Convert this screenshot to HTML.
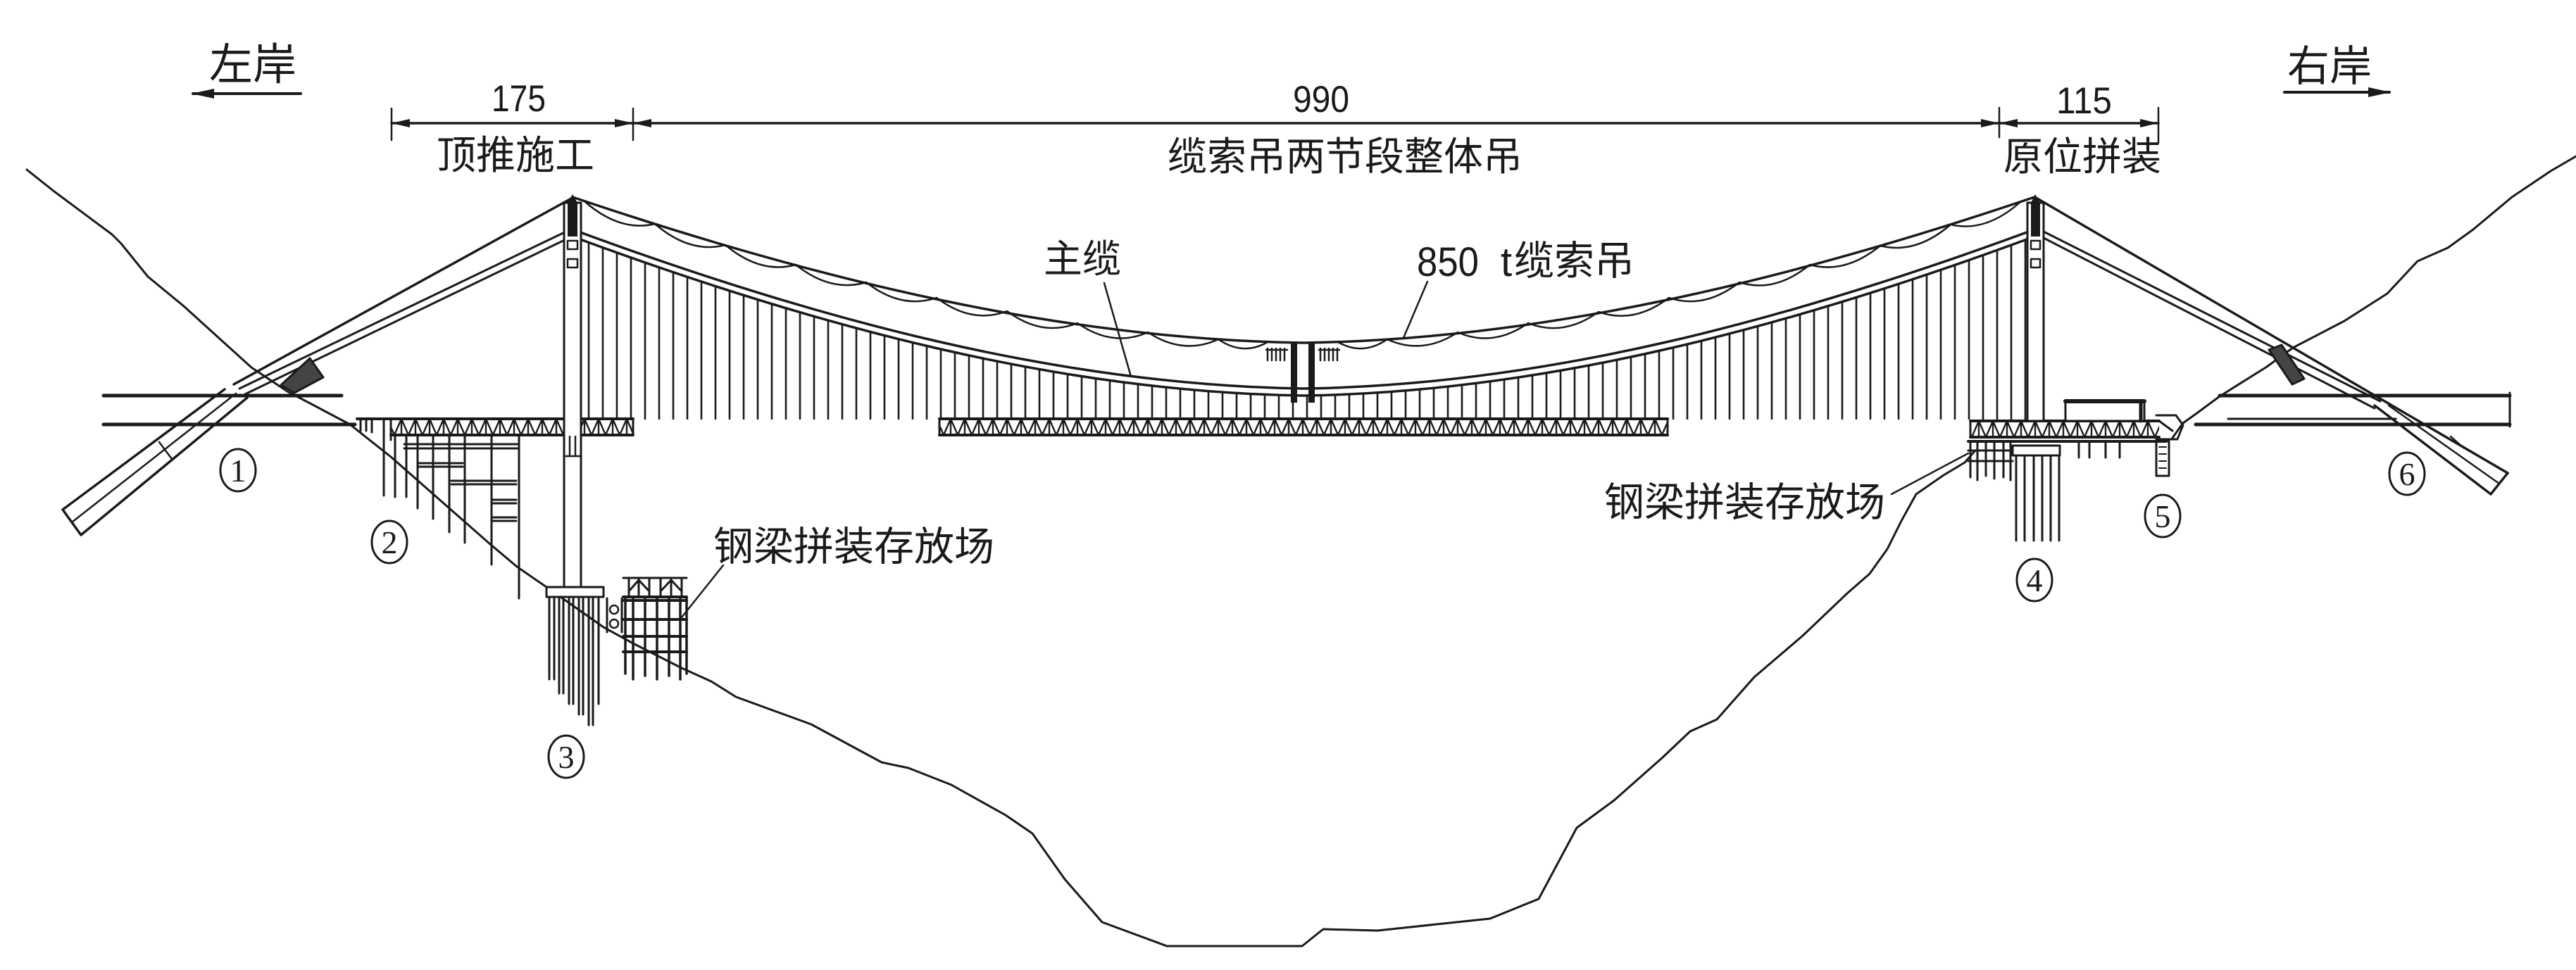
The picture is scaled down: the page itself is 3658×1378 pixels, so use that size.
<!DOCTYPE html>
<html><head><meta charset="utf-8">
<style>
html,body{margin:0;padding:0;background:#fff;}
svg{display:block;}
.cjk{font-family:"Liberation Sans","Noto Sans CJK SC",sans-serif;fill:#1a1a1a;}
.num{font-family:"Liberation Sans",sans-serif;fill:#1a1a1a;}
.cn{font-family:"Liberation Serif",serif;fill:#1a1a1a;text-anchor:middle;}
</style></head><body>
<svg width="3658" height="1378" viewBox="0 0 3658 1378" xmlns="http://www.w3.org/2000/svg">
<defs>
<pattern id="hang" patternUnits="userSpaceOnUse" x="6" y="0" width="20" height="20"><line x1="10" y1="0" x2="10" y2="20" stroke="#1a1a1a" stroke-width="2.6"/></pattern>
<pattern id="truss" patternUnits="userSpaceOnUse" x="0" y="595" width="20" height="23"><path d="M0,23 L10,0 L20,23 M10,0 L10,23" stroke="#1a1a1a" stroke-width="2.4" fill="none"/></pattern>
<pattern id="trussR" patternUnits="userSpaceOnUse" x="0" y="598" width="20" height="23"><path d="M0,23 L10,0 L20,23 M10,0 L10,23" stroke="#1a1a1a" stroke-width="2.4" fill="none"/></pattern>
</defs>
<rect width="3658" height="1378" fill="#fff"/>

<g fill="none" stroke="#1a1a1a" stroke-linejoin="round" stroke-linecap="round">
<!-- terrain -->
<path stroke-width="3" d="M38,241 L77,272 L159,333 L172,346 L210,393 L261,435 L357,522 L408,556 L446,576 L497,603 L555,649 L638,722 L696,773 L734,805 L776,834 L857,891 L899,914 L968,949 L1010,968 L1045,990 L1152,1029 L1252,1083 L1290,1091 L1351,1115 L1428,1158 L1466,1184 L1512,1249 L1565,1310 L1657,1344 L1849,1344 L1879,1320 L1956,1322 L2116,1305 L2185,1277 L2239,1176 L2292,1137 L2361,1076 L2400,1039 L2438,1022 L2491,962 L2560,903 L2623,843 L2655,815 L2680,780 L2700,740 L2721,702 L2760,675 L2790,657 L2805,640"/>
<path stroke-width="3" d="M3085,622 L3100,601 L3121,586 L3152,563 L3219,521 L3256,494 L3329,456 L3390,417 L3433,371 L3476,352 L3512,326 L3567,280 L3622,243 L3658,222"/>

<!-- dimension line -->
<line x1="556" y1="175" x2="3065" y2="175" stroke-width="3.5"/>
<line x1="556" y1="154" x2="556" y2="199" stroke-width="2.5"/>
<line x1="899" y1="154" x2="899" y2="199" stroke-width="2.5"/>
<line x1="2839" y1="153" x2="2839" y2="195" stroke-width="2.5"/>
<line x1="3065" y1="153" x2="3065" y2="203" stroke-width="2.5"/>

<!-- bank arrows -->
<line x1="274" y1="133" x2="427" y2="133" stroke-width="4"/>
<line x1="3244" y1="131" x2="3393" y2="131" stroke-width="4"/>

<!-- roads -->
<line x1="147" y1="562" x2="485" y2="562" stroke-width="5"/>
<line x1="147" y1="603" x2="504" y2="603" stroke-width="5"/>
<line x1="3152" y1="562" x2="3564" y2="562" stroke-width="5"/>
<line x1="3118" y1="603" x2="3564" y2="603" stroke-width="5"/>
<line x1="3164" y1="595" x2="3402" y2="595" stroke-width="3"/>
<line x1="3564" y1="558" x2="3564" y2="606" stroke-width="3"/>

<!-- hangers -->
<path stroke="none" fill="url(#hang)" d="M813,336 C1159,464 1505,557 1851,562 C2197,557 2543,464 2889,336 L2889,596 L813,596 Z"/>

<!-- upper crane cable -->
<path stroke-width="3.5" d="M813,280 C1159,397 1505,482 1851,487 C2197,482 2543,397 2889,280"/>
<!-- scallops -->
<path stroke-width="2.5" d="M830,286 Q880,330 930,318 Q980,361 1030,348 Q1080,390 1130,376 Q1180,416 1230,401 Q1280,440 1330,423 Q1380,461 1430,442 Q1480,479 1530,459 Q1580,494 1630,472 Q1680,505 1730,482 Q1765,506 1800,486 M1900,486 Q1935,506 1970,482 Q2020,505 2070,472 Q2120,494 2170,459 Q2220,479 2270,443 Q2320,461 2370,423 Q2420,440 2470,401 Q2520,417 2570,376 Q2620,390 2670,349 Q2720,362 2770,319 Q2820,331 2870,286"/>

<!-- main cable -->
<path stroke-width="3.5" d="M813,326 C1159,454 1505,547 1851,552 C2197,547 2543,454 2889,326"/>
<path stroke-width="3.5" d="M813,336 C1159,464 1505,557 1851,562 C2197,557 2543,464 2889,336"/>

<!-- left backstays -->
<line x1="813" y1="281" x2="332" y2="546" stroke-width="3.5"/>
<line x1="810" y1="326" x2="340" y2="552" stroke-width="3"/>
<line x1="812" y1="336" x2="348" y2="560" stroke-width="3"/>
<!-- left anchorage bar -->
<path stroke-width="3.5" d="M319,553 L89,724 L115,760 L351,565"/>
<line x1="335" y1="559" x2="102" y2="742" stroke-width="2.5"/>
<line x1="226" y1="628" x2="244" y2="652" stroke-width="2.5"/>
<path fill="#444" stroke-width="3" d="M399,547 L440,509 L459,536 L418,558 Z"/>

<!-- right backstays -->
<line x1="2893" y1="282" x2="3561" y2="672" stroke-width="3.5"/>
<line x1="2900" y1="328" x2="3380" y2="570" stroke-width="3"/>
<line x1="2902" y1="338" x2="3372" y2="580" stroke-width="3"/>
<path stroke-width="3.5" d="M3372,576 L3537,702 L3561,672"/>
<line x1="3392" y1="576" x2="3549" y2="687" stroke-width="2.5"/>
<line x1="3480" y1="620" x2="3498" y2="636" stroke-width="2.5"/>
<path fill="#444" stroke-width="3" d="M3222,497 L3240,490 L3272,538 L3255,546 Z"/>

<!-- center crane -->
<rect x="1833" y="488" width="9" height="84" fill="#1a1a1a" stroke="none"/>
<rect x="1858" y="488" width="9" height="84" fill="#1a1a1a" stroke="none"/>
<path stroke-width="2.5" d="M1800,495 L1800,512 M1806,495 L1806,512 M1812,495 L1812,512 M1818,495 L1818,512 M1824,495 L1824,512 M1798,497 L1828,497 M1875,495 L1875,512 M1881,495 L1881,512 M1887,495 L1887,512 M1893,495 L1893,512 M1899,495 L1899,512 M1873,497 L1902,497"/>

<!-- trusses -->
<rect x="555" y="595" width="344" height="23" fill="url(#truss)" stroke="none"/>
<line x1="507" y1="595" x2="899" y2="595" stroke-width="4"/>
<line x1="555" y1="618" x2="899" y2="618" stroke-width="4"/>
<line x1="899" y1="595" x2="899" y2="618" stroke-width="3"/>
<path stroke-width="3" d="M512,595 L512,612 M520,595 L520,612 M528,595 L528,614 M545,595 L545,625 M555,595 L555,625"/>

<rect x="1334" y="595" width="1034" height="23" fill="url(#truss)" stroke="none"/>
<line x1="1334" y1="595" x2="2368" y2="595" stroke-width="4"/>
<line x1="1334" y1="618" x2="2368" y2="618" stroke-width="4"/>
<line x1="1334" y1="595" x2="1334" y2="618" stroke-width="3"/>
<line x1="2368" y1="595" x2="2368" y2="618" stroke-width="3"/>

<rect x="2798" y="598" width="268" height="23" fill="url(#trussR)" stroke="none"/>
<line x1="2798" y1="598" x2="3066" y2="598" stroke-width="4"/>
<line x1="2798" y1="621" x2="3066" y2="621" stroke-width="4"/>
<line x1="2798" y1="598" x2="2798" y2="621" stroke-width="3"/>
<line x1="2795" y1="627" x2="3075" y2="627" stroke-width="4"/>
<path stroke-width="3" d="M3062,590 L3090,590 L3100,604 L3092,624 L3062,624 M3066,598 L3085,612"/>

<!-- gantry -->
<rect x="2933" y="570" width="112" height="28" stroke-width="3" fill="#fff"/>
<line x1="2933" y1="570" x2="3045" y2="570" stroke-width="6"/>
<line x1="3040" y1="570" x2="3040" y2="598" stroke-width="5"/>

<!-- left tower -->
<rect x="801" y="288" width="24" height="546" fill="#fff" stroke-width="3"/>
<path fill="#1a1a1a" stroke="none" d="M813,276 L820,288 L820,336 L806,336 L806,288 Z"/>
<rect x="806" y="342" width="14" height="12" stroke-width="2.5"/>
<rect x="806" y="368" width="14" height="12" stroke-width="2.5"/>
<path stroke-width="2.5" d="M809,620 L809,648 M817,620 L817,648 M801,648 L825,648"/>

<!-- right tower -->
<rect x="2879" y="288" width="23" height="310" fill="#fff" stroke-width="3"/>
<path fill="#1a1a1a" stroke="none" d="M2890,276 L2897,288 L2897,336 L2884,336 L2884,288 Z"/>
<rect x="2884" y="342" width="13" height="12" stroke-width="2.5"/>
<rect x="2884" y="368" width="13" height="12" stroke-width="2.5"/>

<!-- left scaffold (2) -->
<path stroke-width="3" d="M545,618 L545,704 M561,618 L561,706 M577,618 L577,706 M593,618 L593,722 M615,618 L615,737 M638,618 L638,756 M660,618 L660,771 M698,618 L698,802 M737,618 L737,850"/>
<path stroke-width="3" d="M574,631 L737,631 M574,637 L737,637 M593,658 L657,658 M593,663 L657,663 M641,683 L733,683 M641,688 L733,688 M698,710 L733,710 M698,715 L733,715 M698,735 L733,735 M698,740 L733,740"/>

<!-- pier 3 -->
<rect x="776" y="834" width="81" height="14" stroke-width="3" fill="#fff"/>
<path stroke-width="3" d="M780,848 L780,965 M787,848 L787,965 M794,848 L794,985 M800,848 L800,985 M808,848 L808,1000 M814,848 L814,1000 M822,848 L822,1015 M828,848 L828,1015 M836,848 L836,1030 M842,848 L842,1030 M850,848 L850,1000"/>
<!-- storage frame 3 -->
<path stroke-width="3" d="M862,850 L862,898 M883,850 L883,898"/>
<circle cx="872" cy="866" r="6" stroke-width="2.5"/>
<circle cx="872" cy="886" r="6" stroke-width="2.5"/>
<path stroke-width="3.5" d="M888,848 L888,957 M899,848 L899,965 M916,848 L916,960 M933,848 L933,965 M950,848 L950,960 M966,848 L966,965 M975,848 L975,957"/>
<path stroke-width="4" d="M885,848 L975,848 M885,853 L975,853 M885,880 L975,880 M885,904 L975,904 M885,926 L975,926"/>
<path stroke-width="3" d="M885,821 L930,821 M930,821 L975,821 M893,821 L893,847 M907,821 L907,847 M922,821 L922,847 M938,821 L938,847 M953,821 L953,847 M968,821 L968,847 M893,840 L907,824 M907,824 L922,840 M938,840 L953,824 M953,824 L968,840"/>

<!-- pier 4 area -->
<path stroke-width="3" d="M2798,627 L2798,678 M2808,627 L2808,682 M2820,627 L2820,676 M2832,627 L2832,680 M2845,627 L2845,678 M2855,627 L2855,682"/>
<path stroke-width="3" d="M2795,640 L2858,640 M2795,655 L2858,655"/>
<rect x="2858" y="633" width="67" height="14" stroke-width="3" fill="#fff"/>
<path stroke-width="3" d="M2863,647 L2863,768 M2875,647 L2875,768 M2888,647 L2888,768 M2900,647 L2900,768 M2912,647 L2912,768 M2924,647 L2924,768"/>
<path stroke-width="3" d="M2952,627 L2952,650 M2967,627 L2967,650 M2990,627 L2990,650 M3010,627 L3010,650"/>
<rect x="3062" y="627" width="18" height="49" stroke-width="3"/>
<path stroke-width="2" d="M3066,635 L3076,635 M3066,645 L3076,645 M3066,655 L3076,655 M3066,665 L3076,665"/>

<!-- leaders -->
<line x1="1027" y1="803" x2="968" y2="877" stroke-width="2.5"/>
<line x1="2686" y1="702" x2="2795" y2="644" stroke-width="2.5"/>
<line x1="1568" y1="402" x2="1606" y2="535" stroke-width="2.5"/>
<line x1="2027" y1="400" x2="1993" y2="480" stroke-width="2.5"/>

<!-- circles -->
<ellipse cx="338" cy="668" rx="25" ry="30" stroke-width="3"/>
<ellipse cx="553" cy="770" rx="25" ry="30" stroke-width="3"/>
<ellipse cx="804" cy="1075" rx="25" ry="30" stroke-width="3"/>
<ellipse cx="2889" cy="824" rx="25" ry="30" stroke-width="3"/>
<ellipse cx="3071" cy="733" rx="25" ry="30" stroke-width="3"/>
<ellipse cx="3418" cy="673" rx="25" ry="30" stroke-width="3"/>
</g>

<!-- arrowheads -->
<g fill="#1a1a1a">
<polygon points="556,175 582,169 582,181"/>
<polygon points="899,175 873,169 873,181"/>
<polygon points="899,175 925,169 925,181"/>
<polygon points="2839,175 2813,169 2813,181"/>
<polygon points="2839,175 2865,169 2865,181"/>
<polygon points="3065,175 3039,169 3039,181"/>
<polygon points="272,133 304,126 304,140"/>
<polygon points="3395,131 3363,124 3363,138"/>
</g>

<!-- texts -->
<text class="cjk" x="297" y="113" font-size="62">左岸</text>
<text class="cjk" x="3248" y="115" font-size="60">右岸</text>
<text class="num" x="698" y="158" font-size="53" textLength="77" lengthAdjust="spacingAndGlyphs">175</text>
<text class="num" x="1836" y="159" font-size="53" textLength="80" lengthAdjust="spacingAndGlyphs">990</text>
<text class="num" x="2920" y="161" font-size="53" textLength="79" lengthAdjust="spacingAndGlyphs">115</text>
<text class="cjk" x="620" y="240" font-size="56">顶推施工</text>
<text class="cjk" x="1658" y="242" font-size="56">缆索吊两节段整体吊</text>
<text class="cjk" x="2845" y="242" font-size="56">原位拼装</text>
<text class="cjk" x="1482" y="387" font-size="55">主缆</text>
<text class="num" x="2012" y="392" font-size="58" textLength="88" lengthAdjust="spacingAndGlyphs">850</text>
<text class="num" x="2131" y="392" font-size="58">t</text>
<text class="cjk" x="2150" y="390" font-size="57">缆索吊</text>
<text class="cjk" x="1013" y="796" font-size="57">钢梁拼装存放场</text>
<text class="cjk" x="2278" y="733" font-size="57">钢梁拼装存放场</text>

<text class="cn" x="338" y="684" font-size="46">1</text>
<text class="cn" x="553" y="786" font-size="46">2</text>
<text class="cn" x="804" y="1091" font-size="46">3</text>
<text class="cn" x="2889" y="840" font-size="46">4</text>
<text class="cn" x="3071" y="749" font-size="46">5</text>
<text class="cn" x="3418" y="689" font-size="46">6</text>
</svg>
</body></html>
